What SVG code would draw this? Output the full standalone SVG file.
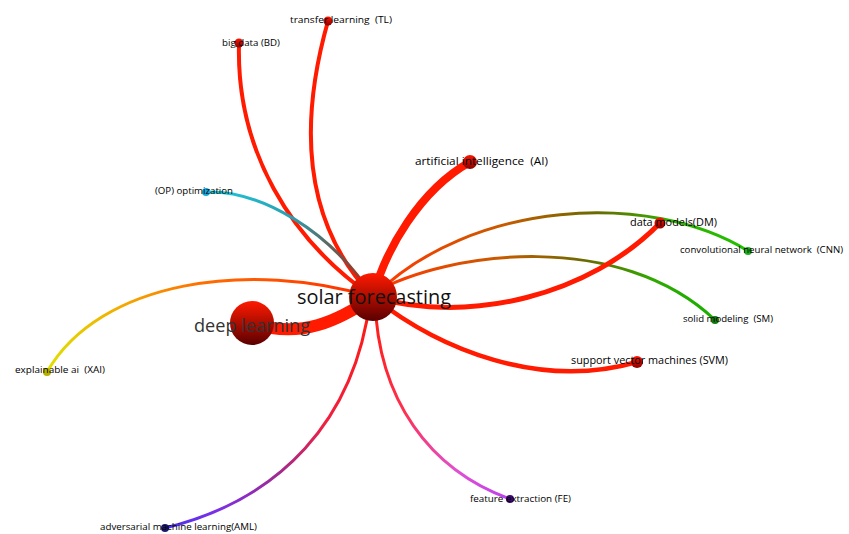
<svg xmlns="http://www.w3.org/2000/svg" width="849" height="534" viewBox="0 0 849 534">
<defs>
<style>
.e{fill:none;stroke-linecap:round}
.lbl{font-family:"Open Sans","Liberation Sans",sans-serif;font-size:9.5px;fill:#000;white-space:pre}
.big{font-family:"Open Sans","Liberation Sans",sans-serif;white-space:pre}
</style>
<linearGradient id="gC" x1="0" y1="0" x2="0" y2="1">
<stop offset="0" stop-color="#ff1a00"/><stop offset="1" stop-color="#5a0000"/>
</linearGradient>
<linearGradient id="gDot" x1="0" y1="0" x2="0" y2="1">
<stop offset="0" stop-color="#ff1500"/><stop offset="1" stop-color="#8a0000"/>
</linearGradient>
<linearGradient id="gOP" gradientUnits="userSpaceOnUse" x1="206" y1="192" x2="370" y2="290">
<stop offset="0" stop-color="#1ec8e0"/><stop offset="0.45" stop-color="#2aa0b0"/><stop offset="0.75" stop-color="#6a5a50"/><stop offset="1" stop-color="#c02010"/>
</linearGradient>
<linearGradient id="gCNN" gradientUnits="userSpaceOnUse" x1="380" y1="285" x2="748" y2="251">
<stop offset="0" stop-color="#ff3a00"/><stop offset="0.35" stop-color="#c85a00"/><stop offset="0.6" stop-color="#6a6a00"/><stop offset="0.8" stop-color="#30b000"/><stop offset="1" stop-color="#22c000"/>
</linearGradient>
<linearGradient id="gSM" gradientUnits="userSpaceOnUse" x1="380" y1="290" x2="715" y2="320">
<stop offset="0" stop-color="#ff3a00"/><stop offset="0.35" stop-color="#c85a00"/><stop offset="0.6" stop-color="#6a6a00"/><stop offset="0.8" stop-color="#30a800"/><stop offset="1" stop-color="#18b000"/>
</linearGradient>
<linearGradient id="gXAI" gradientUnits="userSpaceOnUse" x1="373" y1="297" x2="47" y2="372">
<stop offset="0" stop-color="#ff2a00"/><stop offset="0.5" stop-color="#ff7000"/><stop offset="0.78" stop-color="#f0b400"/><stop offset="1" stop-color="#e0e000"/>
</linearGradient>
<linearGradient id="gAML" gradientUnits="userSpaceOnUse" x1="370" y1="300" x2="165" y2="528">
<stop offset="0" stop-color="#ff1a10"/><stop offset="0.4" stop-color="#f02040"/><stop offset="0.62" stop-color="#a02a90"/><stop offset="0.85" stop-color="#7a30e8"/><stop offset="1" stop-color="#4a30f0"/>
</linearGradient>
<linearGradient id="gFE" gradientUnits="userSpaceOnUse" x1="375" y1="300" x2="510" y2="499">
<stop offset="0" stop-color="#ff1a10"/><stop offset="0.45" stop-color="#ff3050"/><stop offset="0.78" stop-color="#e050d0"/><stop offset="1" stop-color="#c040f0"/>
</linearGradient>
</defs>
<rect width="849" height="534" fill="#fff"/>
<g id="connectors">
<path class="e" d="M328,21 C300,120 300,220 373,297" stroke="#ff1a00" stroke-width="4"/>
<path class="e" d="M239,43 C236,150 290,240 373,297" stroke="#ff1a00" stroke-width="4"/>
<path class="e" d="M206,192 C260,190 330,230 373,297" stroke="url(#gOP)" stroke-width="3"/>
<path class="e" d="M373,297 C470,200 650,190 748,251" stroke="url(#gCNN)" stroke-width="3"/>
<path class="e" d="M373,293 C450,250 620,230 715,320" stroke="url(#gSM)" stroke-width="3"/>
<path class="e" d="M373,297 C250,260 100,280 47,372" stroke="url(#gXAI)" stroke-width="3"/>
<path class="e" d="M370,300 C355,420 280,500 165,528" stroke="url(#gAML)" stroke-width="3"/>
<path class="e" d="M375,300 C378,400 430,470 510,499" stroke="url(#gFE)" stroke-width="3"/>
<path class="e" d="M373,297 C470,325 590,295 660,223" stroke="#ff1a00" stroke-width="5"/>
<path class="e" d="M373,297 C440,350 540,390 637,362" stroke="#ff1a00" stroke-width="4.5"/>
<path class="e" d="M373,297 C385,250 420,190 470,162" stroke="#ff1a00" stroke-width="8"/>
<path class="e" d="M252,323 C300,340 340,320 373,297" stroke="#ff1a00" stroke-width="12"/>
</g>
<g id="n-center"><circle cx="373" cy="297" r="24" fill="url(#gC)"/></g>
<g id="n-dl"><circle cx="252" cy="323" r="22" fill="url(#gC)"/></g>
<g id="n-tl"><circle cx="328" cy="21" r="4.5" fill="url(#gDot)"/></g>
<g id="n-bd"><circle cx="239" cy="43" r="4.5" fill="url(#gDot)"/></g>
<g id="n-ai"><circle cx="470" cy="162" r="7" fill="url(#gDot)"/></g>
<g id="n-op"><circle cx="206" cy="192" r="4" fill="#1aa8d8"/></g>
<g id="n-dm"><circle cx="660" cy="223" r="5.5" fill="url(#gDot)"/></g>
<g id="n-cnn"><circle cx="748" cy="251" r="4" fill="#1fae1f"/></g>
<g id="n-sm"><circle cx="715" cy="320" r="4" fill="#127a12"/></g>
<g id="n-svm"><circle cx="637" cy="362" r="6" fill="url(#gDot)"/></g>
<g id="n-xai"><circle cx="47" cy="372" r="4" fill="#b8b000"/></g>
<g id="n-aml"><circle cx="165" cy="528" r="4" fill="#1a1a70"/></g>
<g id="n-fe"><circle cx="510" cy="499" r="4" fill="#3a0a70"/></g>
<g id="labels">
<text class="big" x="297" y="304" font-size="20" fill="#111" textLength="154" lengthAdjust="spacingAndGlyphs">solar forecasting</text>
<text class="big" x="194" y="332" font-size="18" fill="#333" textLength="116" lengthAdjust="spacingAndGlyphs">deep learning</text>
<text class="lbl" x="290" y="23" textLength="102" lengthAdjust="spacingAndGlyphs">transfer learning  (TL)</text>
<text class="lbl" x="222" y="46" textLength="58" lengthAdjust="spacingAndGlyphs">big data (BD)</text>
<text class="lbl" x="415" y="165" style="font-size:10.5px" textLength="133" lengthAdjust="spacingAndGlyphs">artificial intelligence  (AI)</text>
<text class="lbl" x="155" y="194" textLength="78" lengthAdjust="spacingAndGlyphs">(OP) optimization</text>
<text class="lbl" x="630" y="226" style="font-size:10px" textLength="87" lengthAdjust="spacingAndGlyphs">data models(DM)</text>
<text class="lbl" x="680" y="253" textLength="163" lengthAdjust="spacingAndGlyphs">convolutional neural network  (CNN)</text>
<text class="lbl" x="683" y="322" textLength="90" lengthAdjust="spacingAndGlyphs">solid modeling  (SM)</text>
<text class="lbl" x="571" y="364" style="font-size:10px" textLength="157" lengthAdjust="spacingAndGlyphs">support vector machines (SVM)</text>
<text class="lbl" x="15" y="373" textLength="90" lengthAdjust="spacingAndGlyphs">explainable ai  (XAI)</text>
<text class="lbl" x="100" y="530" textLength="157" lengthAdjust="spacingAndGlyphs">adversarial machine learning(AML)</text>
<text class="lbl" x="470" y="502" textLength="101" lengthAdjust="spacingAndGlyphs">feature extraction (FE)</text>
</g>
</svg>
